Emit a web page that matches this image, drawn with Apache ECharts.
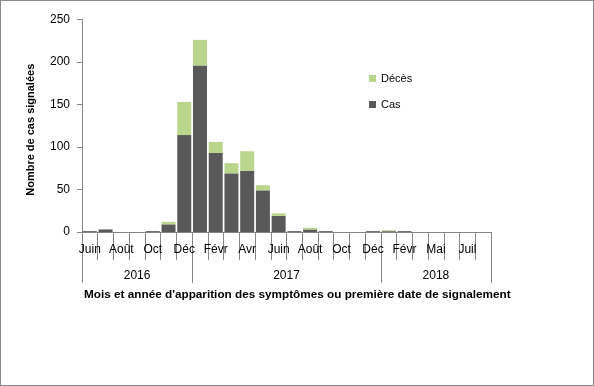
<!DOCTYPE html>
<html>
<head>
<meta charset="utf-8">
<script src="https://cdn.jsdelivr.net/npm/echarts@6/dist/echarts.min.js"></script>
<style>
html,body{margin:0;padding:0;background:#fff;}
#c{width:594px;height:386px;position:absolute;left:0;top:0;}
#frame{position:absolute;left:0;top:0;width:594px;height:386px;box-sizing:border-box;border:1px solid #8a8a8a;pointer-events:none;}
</style>
</head>
<body>
<div id="c"></div>
<div id="frame"></div>
<script>
const months = ['Juin','Juil','Août','Sept','Oct','Nov','Déc',
  'Janv','Févr','Mars','Avr','Mai','Juin','Juil','Août','Sept','Oct','Nov','Déc',
  'Janv','Févr','Mars','Mai','Juin','Juil','Août'];
const years = ['2016','2017','2018'];
const yearSpans = [7, 12, 7];
const cas =   [1,3,0,0,1,9,114,196,93,69,72,49,19,1,3,1,0,0,1,1,1,0,0,0,0,0];
const deces = [0,0,0,0,0,3,39,30,13,12,23,6,3,0,2,0,0,0,0,1,0,0,0,0,0,0];
const yTicks = [0,50,100,150,200,250];

const bounds = [0];
yearSpans.forEach(s => bounds.push(bounds[bounds.length-1] + s));
const centers = yearSpans.map((s,i) => bounds[i] + s/2);
const monthBounds = months.map((m,i) => i).concat([months.length]);

const FONT = 'Liberation Sans';
const AX = '#868686';
const chart = echarts.init(document.getElementById('c'), null, {renderer:'canvas'});
chart.setOption({
  animation: false,
  backgroundColor: '#fff',
  textStyle: {fontFamily: FONT},
  title: {
    text: "Mois et année d'apparition des symptômes ou première date de signalement",
    left: 84, top: 289, padding: 0,
    textStyle: {fontFamily: FONT, fontSize: 11.75, fontWeight: 'bold', color: '#000'}
  },
  legend: {
    orient: 'vertical', left: 364, top: 68,
    itemWidth: 7, itemHeight: 7, itemGap: 15, icon: 'rect',
    data: ['Décès','Cas'],
    textStyle: {fontFamily: FONT, fontSize: 11, color: '#000'}
  },
  grid: {left: 82, right: 103, top: 19.5, bottom: 154, containLabel: false},
  xAxis: [{
    type: 'category', data: months, position: 'bottom',
    axisLine: {show: true, lineStyle: {color: AX}},
    axisTick: {show: false},
    axisLabel: {interval: 1, margin: 12, fontFamily: FONT, fontSize: 12, color: '#000'}
  },{
    type: 'value', min: 0, max: months.length, position: 'bottom',
    axisLine: {show: false},
    splitLine: {show: false},
    axisTick: {show: true, length: 28, customValues: monthBounds, lineStyle: {color: AX}},
    axisLabel: {show: false}
  },{
    type: 'value', min: 0, max: bounds[bounds.length-1], position: 'bottom',
    axisLine: {show: false},
    splitLine: {show: false},
    axisTick: {show: true, length: 51, customValues: bounds, lineStyle: {color: AX}},
    axisLabel: {show: true, margin: 38, customValues: centers,
      formatter: v => { const i = centers.indexOf(v); return i >= 0 ? years[i] : ''; },
      fontFamily: FONT, fontSize: 12, color: '#000'}
  }],
  yAxis: {
    type: 'value', min: yTicks[0], max: yTicks[yTicks.length-1], interval: 50,
    name: 'Nombre de cas signalées', nameLocation: 'middle', nameGap: 46,
    nameTextStyle: {fontFamily: FONT, fontSize: 11, fontWeight: 'bold', color: '#000', padding: [0,0,0,-8]},
    axisLine: {show: true, lineStyle: {color: AX}},
    axisTick: {show: true, length: 5, lineStyle: {color: AX}},
    splitLine: {show: false},
    axisLabel: {margin: 12, fontFamily: FONT, fontSize: 12, color: '#000'}
  },
  series: [{
    name: 'Cas', type: 'bar', stack: 't', data: cas, xAxisIndex: 0,
    barCategoryGap: '11%', itemStyle: {color: '#595959'}
  },{
    name: 'Décès', type: 'bar', stack: 't', data: deces, xAxisIndex: 0,
    barCategoryGap: '11%', itemStyle: {color: '#BAD58C'}
  }]
});
</script>
</body>
</html>
